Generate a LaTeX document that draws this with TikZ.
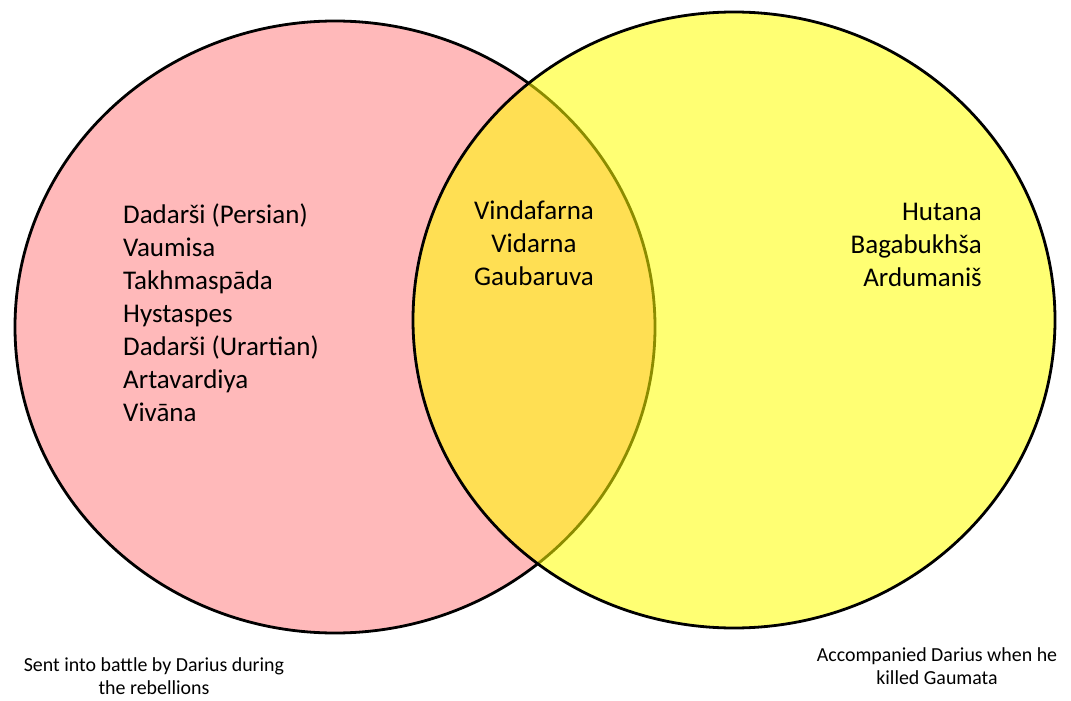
\documentclass[tikz,border=0pt]{standalone}
\usepackage{fontspec}
\setmainfont{Carlito}
\usetikzlibrary{shapes.geometric}
\definecolor{rebelpink}{RGB}{255,185,186}
\definecolor{sunyellow}{RGB}{255,255,0}

\begin{document}
\begin{tikzpicture}[x=1pt,y=-1pt,
		setring/.style={draw, ellipse, line width=2.8pt, inner sep=0pt},
		namelist/.style={inner sep=0pt, font=\fontsize{27}{33}\selectfont},
		caption/.style={inner sep=0pt, align=center, font=\fontsize{19.9}{23.5}\selectfont}]

				\useasboundingbox (0,0) rectangle (1071,701);

				\node [setring, fill=rebelpink, minimum width=640pt, minimum height=612pt] (rebels) at (335,327){};
				\node [setring, fill=sunyellow, fill opacity=0.55, minimum width=642pt, minimum height=616pt] (gaumata) at (734,320){};

				\node [namelist, align=left, anchor=north west] (rebelnames) at (123,204){Dadarši (Persian)\\Vaumisa\\Takhmaspāda\\Hystaspes\\Dadarši (Urartian)\\Artavardiya\\Vivāna};
				\node [namelist, align=center, anchor=north] (bothnames) at (534,201){Vindafarna\\Vidarna\\Gaubaruva};
				\node [namelist, align=right, anchor=north east] (gaumatanames) at (982,203){Hutana\\Bagabukhša\\Ardumaniš};

				\node [caption] (rebelcap) at (154,676){Sent into battle by Darius during\\the rebellions};
				\node [caption] (gaumatacap) at (937,666){Accompanied Darius when he\\killed Gaumata};

			\end{tikzpicture}
\end{document}
